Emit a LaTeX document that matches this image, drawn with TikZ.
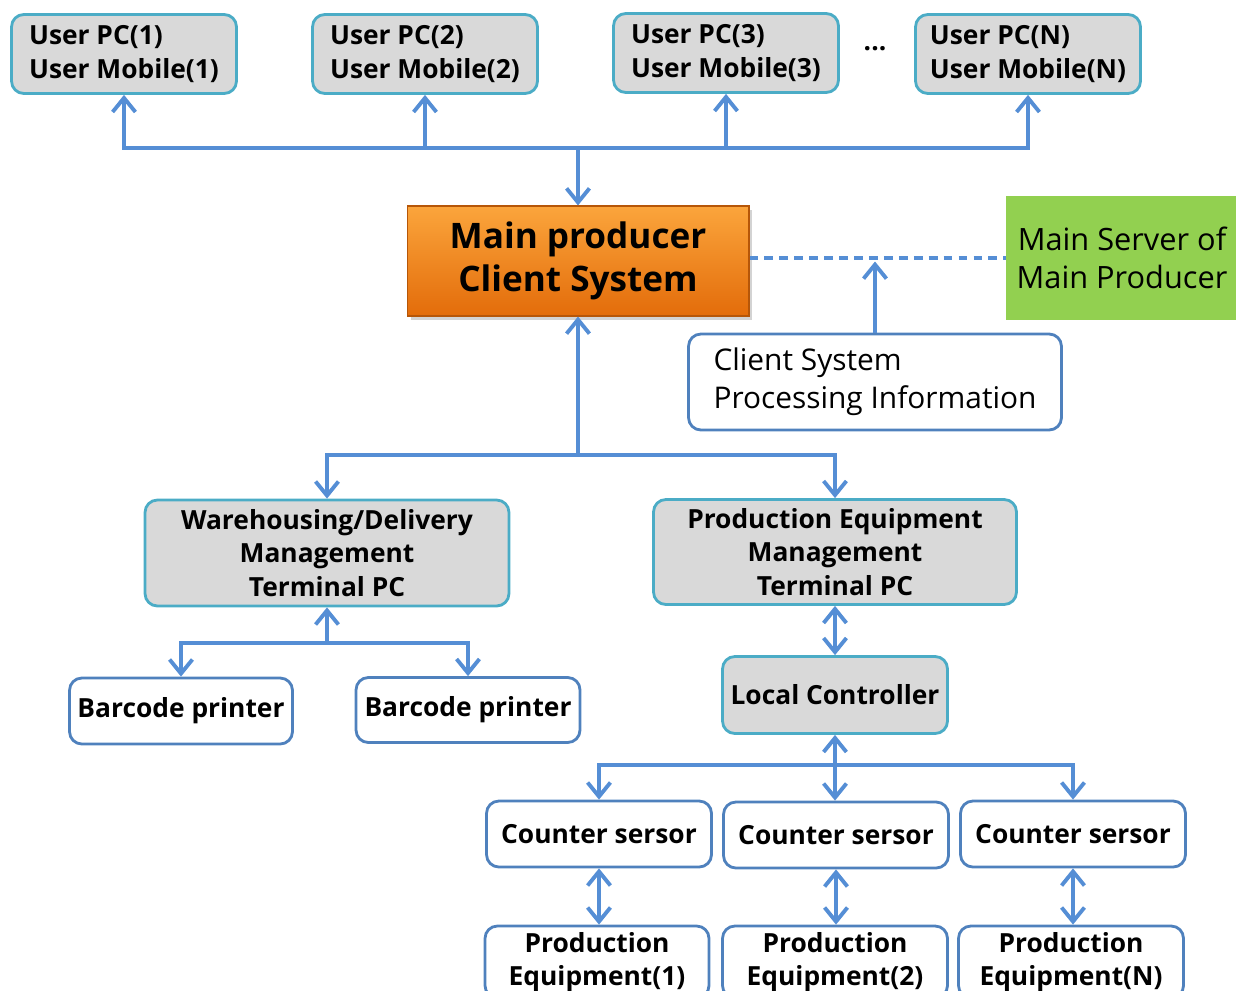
\documentclass[tikz,border=0pt]{standalone}
\usepackage{fontspec}
\setmainfont{Open Sans}
\usepackage{tikz}
\usetikzlibrary{arrows.meta, shadows}

\definecolor{linkblue}{HTML}{558ED5}
\definecolor{boxteal}{HTML}{4BACC6}
\definecolor{boxgrey}{HTML}{D9D9D9}
\definecolor{boxblue}{HTML}{4F81BD}
\definecolor{orangetop}{HTML}{FBA53C}
\definecolor{orangebot}{HTML}{E36C0A}
\definecolor{servergreen}{HTML}{92D050}

\begin{document}
\begin{tikzpicture}[x=0.02cm, y=-0.02cm,
      greybox/.style={draw=boxteal, fill=boxgrey, line width=1.6pt, rounded corners=7pt,
        inner sep=0pt, font=\bfseries\fontsize{15}{19}\selectfont},
      whitebox/.style={draw=boxblue, fill=white, line width=1.6pt, rounded corners=7pt,
        inner sep=0pt, font=\bfseries\fontsize{15}{19}\selectfont},
      conn/.style={draw=linkblue, line width=2.2pt, -{Straight Barb[length=8pt, width=13pt]}},
      biconn/.style={draw=linkblue, line width=2.2pt,
        {Straight Barb[length=8pt, width=13pt]}-{Straight Barb[length=8pt, width=13pt]}}]

      \clip (0,0) rectangle (1236,990);

      \node[greybox, align=left, minimum width=4.5cm, minimum height=1.58cm] (pc1) at (124,54) {User PC(1)\\User Mobile(1)};
      \node[greybox, align=left, minimum width=4.5cm, minimum height=1.58cm] (pc2) at (425,54) {User PC(2)\\User Mobile(2)};
      \node[greybox, align=left, minimum width=4.5cm, minimum height=1.58cm] (pc3) at (726,53) {User PC(3)\\User Mobile(3)};
      \node[font=\bfseries\fontsize{15}{19}\selectfont] (dots) at (875,49) {...};
      \node[greybox, align=left, minimum width=4.5cm, minimum height=1.58cm] (pcn) at (1028,54) {User PC(N)\\User Mobile(N)};

      \node[draw=orangebot!80!black, line width=0.6pt, top color=orangetop, bottom color=orangebot,
        drop shadow={shadow xshift=2pt, shadow yshift=-2pt, opacity=0.35},
        minimum width=6.84cm, minimum height=2.2cm, align=center,
        font=\bfseries\fontsize{20}{24.5}\selectfont] (mainp) at (578,261) {Main producer\\Client System};
      \node[fill=servergreen, minimum width=4.64cm, minimum height=2.48cm, align=center,
        font=\fontsize{17.5}{21.5}\selectfont] (server) at (1122,258) {Main Server of\\Main Producer};
      \node[whitebox, font=\fontsize{17}{21.5}\selectfont, align=left,
        minimum width=7.46cm, minimum height=1.92cm] (info) at (875,382) {Client System\\Processing Information};

      \node[greybox, align=center, minimum width=7.28cm, minimum height=2.12cm] (wh) at (327,553) {Warehousing/Delivery\\Management\\Terminal PC};
      \node[greybox, align=center, minimum width=7.26cm, minimum height=2.1cm] (pem) at (835,552) {Production Equipment\\Management\\Terminal PC};
      \node[whitebox, minimum width=4.46cm, minimum height=1.32cm] (bp1) at (181,711) {Barcode printer};
      \node[whitebox, minimum width=4.48cm, minimum height=1.3cm] (bp2) at (468,710) {Barcode printer};
      \node[greybox, minimum width=4.5cm, minimum height=1.54cm] (lc) at (835,695) {Local Controller};

      \node[whitebox, minimum width=4.5cm, minimum height=1.32cm] (cs1) at (599,834) {Counter sersor};
      \node[whitebox, minimum width=4.5cm, minimum height=1.32cm] (cs2) at (836,835) {Counter sersor};
      \node[whitebox, minimum width=4.5cm, minimum height=1.32cm] (cs3) at (1073,834) {Counter sersor};
      \node[whitebox, align=center, minimum width=4.48cm, minimum height=1.44cm] (pe1) at (597,962) {Production\\Equipment(1)};
      \node[whitebox, align=center, minimum width=4.5cm, minimum height=1.44cm] (pe2) at (835,962) {Production\\Equipment(2)};
      \node[whitebox, align=center, minimum width=4.5cm, minimum height=1.44cm] (pe3) at (1071,962) {Production\\Equipment(N)};

      \coordinate (topbus) at (578,148);
      \coordinate (midbus) at (578,455);
      \coordinate (whbus) at (327,643);
      \coordinate (lcbus) at (835,765);

      \draw[conn] (topbus) -- (mainp.north);
      \foreach \n in {pc1,pc2,pc3,pcn}
        \draw[conn] (topbus) -| (\n.south);
      \draw[draw=linkblue, line width=2pt, dash pattern=on 5pt off 3.5pt] (mainp.east |- server.west) -- (server.west);
      \draw[conn, shorten >=2pt] (info.north) -- (info.north |- server.west);

      \draw[conn] (midbus) -- (mainp.south);
      \draw[conn] (midbus) -| (wh.north);
      \draw[conn] (midbus) -| (pem.north);

      \draw[conn] (whbus) -- (wh.south);
      \draw[conn] (whbus) -| (bp1.north);
      \draw[conn] (whbus) -| (bp2.north);

      \draw[biconn] (pem) -- (lc);
      \draw[biconn] (lc.south) -- (lc.south |- cs2.north);
      \draw[conn] (lcbus) -| (cs1.north);
      \draw[conn] (lcbus) -| (cs3.north);
      \draw[biconn] (cs1) -- (cs1 |- pe1.north);
      \draw[biconn] (cs2) -- (cs2 |- pe2.north);
      \draw[biconn] (cs3) -- (cs3 |- pe3.north);
    \end{tikzpicture}
\end{document}
